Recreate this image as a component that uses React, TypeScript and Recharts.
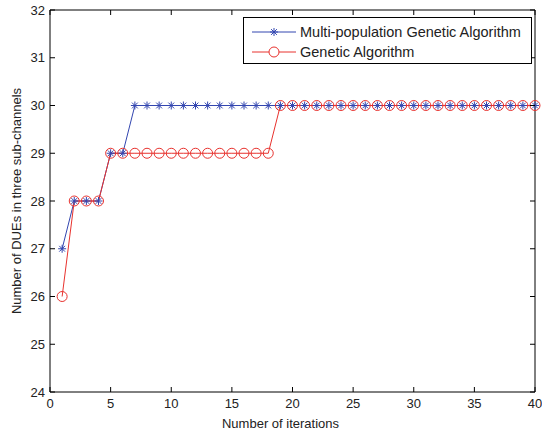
import { Label, Line, LineChart, XAxis, YAxis } from 'recharts';

const iterations = Array.from({ length: 40 }, (_, i) => i + 1);
const mpgaValues = [
  27, 28, 28, 28, 29, 29, 30, 30, 30, 30, 30, 30, 30, 30, 30, 30, 30, 30, 30, 30,
  30, 30, 30, 30, 30, 30, 30, 30, 30, 30, 30, 30, 30, 30, 30, 30, 30, 30, 30, 30,
];
const gaValues = [
  26, 28, 28, 28, 29, 29, 29, 29, 29, 29, 29, 29, 29, 29, 29, 29, 29, 29, 30, 30,
  30, 30, 30, 30, 30, 30, 30, 30, 30, 30, 30, 30, 30, 30, 30, 30, 30, 30, 30, 30,
];
const xTicks = [0, 5, 10, 15, 20, 25, 30, 35, 40];
const yTicks = [24, 25, 26, 27, 28, 29, 30, 31, 32];

const seriesNames = ['Multi-population Genetic Algorithm', 'Genetic Algorithm'];
const BLUE = '#3346b0';
const RED = '#e8322e';
const FONT = '"Liberation Sans", Arial, sans-serif';

const data = iterations.map((x, i) => ({ x, mpga: mpgaValues[i], ga: gaValues[i] }));

const Star = ({ cx, cy, color }: { cx: number; cy: number; color: string }) => {
  const r = 4;
  const d = r * 0.72;
  return (
    <g stroke={color} strokeWidth={1}>
      <line x1={cx - r} y1={cy} x2={cx + r} y2={cy} />
      <line x1={cx} y1={cy - r} x2={cx} y2={cy + r} />
      <line x1={cx - d} y1={cy - d} x2={cx + d} y2={cy + d} />
      <line x1={cx - d} y1={cy + d} x2={cx + d} y2={cy - d} />
    </g>
  );
};

const StarDot = (props: any) => {
  if (props.cx == null || props.cy == null) return null;
  return <Star key={props.index} cx={props.cx} cy={props.cy} color={BLUE} />;
};

const CircleDot = (props: any) => {
  if (props.cx == null || props.cy == null) return null;
  return (
    <circle key={props.index} cx={props.cx} cy={props.cy} r={5} fill="none" stroke={RED} strokeWidth={1} />
  );
};

const BottomTick = ({ x, y, payload }: any) => (
  <g>
    <line x1={x} x2={x} y1={y} y2={y - 5} stroke="#000" />
    <text x={x} y={y + 16} textAnchor="middle" fontSize={13} fontFamily={FONT} fill="#222">
      {payload.value}
    </text>
  </g>
);

const TopTick = ({ x, y }: any) => <line x1={x} x2={x} y1={y} y2={y + 5} stroke="#000" />;

const LeftTick = ({ x, y, payload }: any) => (
  <g>
    <line x1={x} x2={x + 5} y1={y} y2={y} stroke="#000" />
    <text x={x - 5} y={y} dy="0.35em" textAnchor="end" fontSize={13} fontFamily={FONT} fill="#222">
      {payload.value}
    </text>
  </g>
);

const RightTick = ({ x, y }: any) => <line x1={x} x2={x - 5} y1={y} y2={y} stroke="#000" />;

const LegendBox = () => (
  <div
    style={{
      position: 'absolute',
      left: 243,
      top: 17,
      border: '1px solid #000',
      background: '#fff',
      width: 289,
      height: 47,
      boxSizing: 'border-box',
      fontFamily: FONT,
      fontSize: 14.5,
      color: '#222',
      padding: '4px 0 0 8px',
    }}
  >
    {seriesNames.map((name, i) => (
      <div key={name} style={{ display: 'flex', alignItems: 'center', height: 20 }}>
        <svg width={46} height={12} style={{ marginRight: 2 }}>
          <line x1={0} x2={44} y1={6} y2={6} stroke={i === 0 ? BLUE : RED} />
          {i === 0 ? (
            <Star cx={22} cy={6} color={BLUE} />
          ) : (
            <circle cx={22} cy={6} r={5} fill="#fff" stroke={RED} />
          )}
        </svg>
        <span>{name}</span>
      </div>
    ))}
  </div>
);

export default function App() {
  return (
    <div style={{ position: 'absolute', left: 0, top: 0, width: 542, height: 436, background: '#fff' }}>
      <LineChart width={542} height={436} data={data} margin={{ top: 9, right: 6, bottom: 0, left: 0 }}>
        <XAxis
          dataKey="x"
          type="number"
          domain={[0, 40]}
          ticks={xTicks}
          height={44}
          tickSize={0}
          tickMargin={0}
          tick={BottomTick}
          axisLine={{ stroke: '#000' }}
          tickLine={false}
          interval={0}
        >
          <Label
            value="Number of iterations"
            position="insideBottom"
            offset={8}
            dx={-12}
            style={{ fontFamily: FONT, fontSize: 13, fill: '#222' }}
          />
        </XAxis>
        <XAxis
          xAxisId="top"
          dataKey="x"
          type="number"
          orientation="top"
          domain={[0, 40]}
          ticks={xTicks}
          height={1}
          tickSize={0}
          tickMargin={0}
          tick={TopTick}
          axisLine={{ stroke: '#000' }}
          tickLine={false}
          interval={0}
        />
        <YAxis
          type="number"
          domain={[24, 32]}
          ticks={yTicks}
          width={50}
          tickSize={0}
          tickMargin={0}
          tick={LeftTick}
          axisLine={{ stroke: '#000' }}
          tickLine={false}
          interval={0}
        >
          <Label
            value="Number of DUEs in three sub-channels"
            angle={-90}
            position="insideLeft"
            offset={16}
            style={{ textAnchor: 'middle', fontFamily: FONT, fontSize: 13, fill: '#222' }}
          />
        </YAxis>
        <YAxis
          yAxisId="right"
          type="number"
          orientation="right"
          domain={[24, 32]}
          ticks={yTicks}
          width={1}
          tickSize={0}
          tickMargin={0}
          tick={RightTick}
          axisLine={{ stroke: '#000' }}
          tickLine={false}
          interval={0}
        />
        {/* invisible series so the mirrored top/right axes get drawn as the frame */}
        <Line
          xAxisId="top"
          yAxisId="right"
          dataKey="mpga"
          stroke="transparent"
          dot={false}
          activeDot={false}
          legendType="none"
          isAnimationActive={false}
        />
        <Line
          dataKey="mpga"
          name={seriesNames[0]}
          stroke={BLUE}
          strokeWidth={1}
          dot={StarDot}
          activeDot={false}
          isAnimationActive={false}
        />
        <Line
          dataKey="ga"
          name={seriesNames[1]}
          stroke={RED}
          strokeWidth={1}
          dot={CircleDot}
          activeDot={false}
          isAnimationActive={false}
        />
      </LineChart>
      <LegendBox />
    </div>
  );
}
